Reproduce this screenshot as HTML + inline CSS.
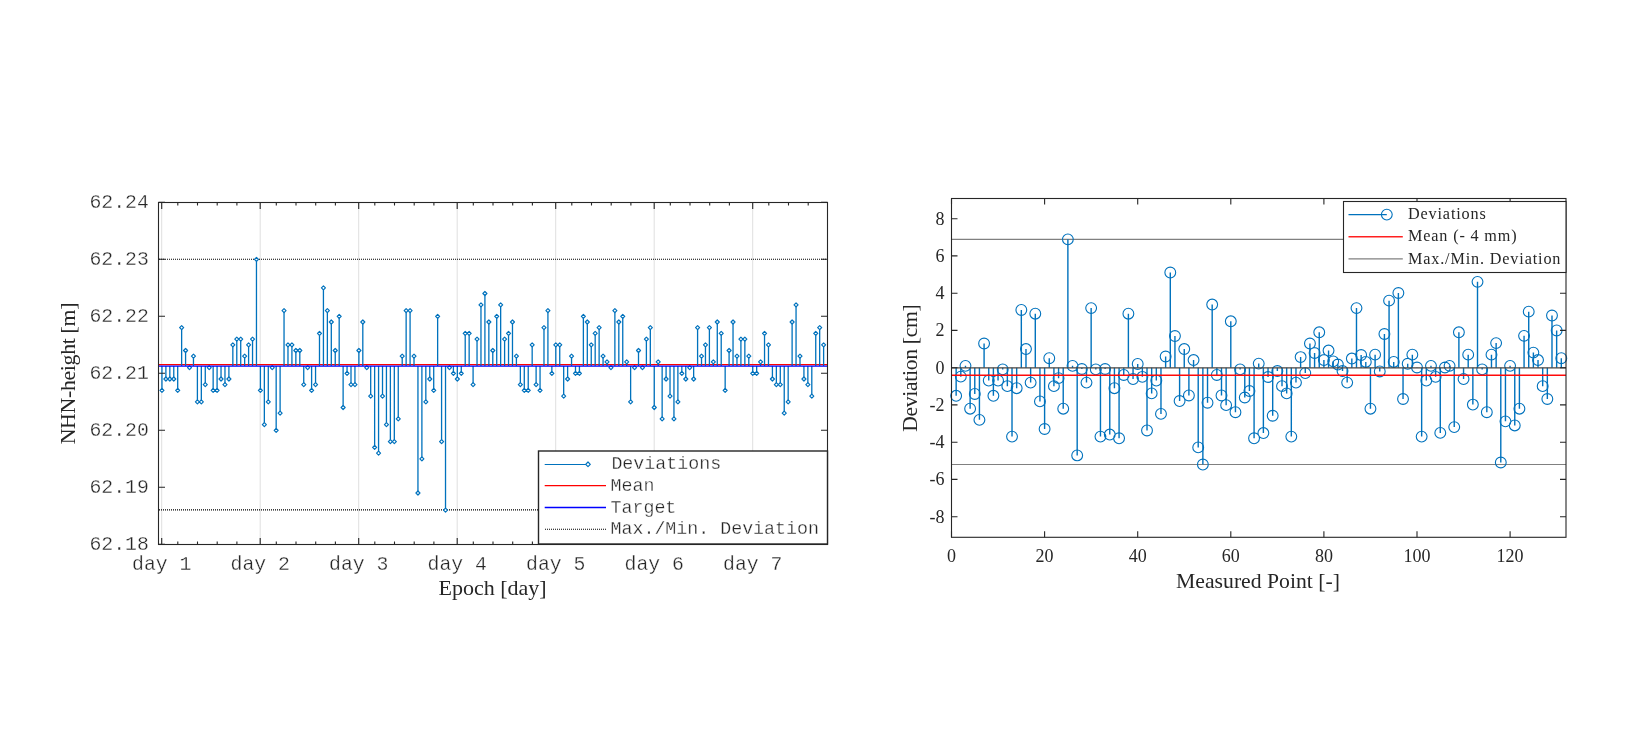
<!DOCTYPE html>
<html><head><meta charset="utf-8"><style>
html,body{margin:0;padding:0;background:#fff;width:1640px;height:750px;overflow:hidden}
svg{display:block;will-change:transform}
.mono{font-family:"Liberation Mono",monospace;fill:#262626;stroke:#fff;stroke-width:0.3px}
.serif{font-family:"Liberation Serif",serif;fill:#262626}
</style></head><body>
<svg width="1640" height="750" viewBox="0 0 1640 750">
<g>
<line x1="161.7" y1="202.5" x2="161.7" y2="544.5" stroke="#dfdfdf" stroke-width="1"/>
<line x1="260.2" y1="202.5" x2="260.2" y2="544.5" stroke="#dfdfdf" stroke-width="1"/>
<line x1="358.7" y1="202.5" x2="358.7" y2="544.5" stroke="#dfdfdf" stroke-width="1"/>
<line x1="457.2" y1="202.5" x2="457.2" y2="544.5" stroke="#dfdfdf" stroke-width="1"/>
<line x1="555.7" y1="202.5" x2="555.7" y2="544.5" stroke="#dfdfdf" stroke-width="1"/>
<line x1="654.2" y1="202.5" x2="654.2" y2="544.5" stroke="#dfdfdf" stroke-width="1"/>
<line x1="752.7" y1="202.5" x2="752.7" y2="544.5" stroke="#dfdfdf" stroke-width="1"/>
<line x1="159" y1="259.3" x2="827" y2="259.3" stroke="#000" stroke-width="1.1" stroke-dasharray="1 1"/>
<line x1="159" y1="509.9" x2="827" y2="509.9" stroke="#000" stroke-width="1.1" stroke-dasharray="1 1"/>
<line x1="158.5" y1="364.7" x2="827.5" y2="364.7" stroke="#ff0000" stroke-width="1.3"/>
<path d="M161.95 366.0V390.40M165.89 366.0V379.00M169.83 366.0V379.00M173.77 366.0V379.00M177.70 366.0V390.40M181.64 366.0V327.70M185.58 366.0V350.50M189.52 366.0V367.60M193.46 366.0V356.20M197.40 366.0V401.80M201.33 366.0V401.80M205.27 366.0V384.70M209.21 366.0V367.60M213.15 366.0V390.40M217.09 366.0V390.40M221.03 366.0V379.00M224.97 366.0V384.70M228.90 366.0V379.00M232.84 366.0V344.80M236.78 366.0V339.10M240.72 366.0V339.10M244.66 366.0V356.20M248.60 366.0V344.80M252.54 366.0V339.10M256.47 366.0V259.30M260.41 366.0V390.40M264.35 366.0V424.60M268.29 366.0V401.80M272.23 366.0V367.60M276.17 366.0V430.30M280.11 366.0V413.20M284.04 366.0V310.60M287.98 366.0V344.80M291.92 366.0V344.80M295.86 366.0V350.50M299.80 366.0V350.50M303.74 366.0V384.70M307.67 366.0V367.60M311.61 366.0V390.40M315.55 366.0V384.70M319.49 366.0V333.40M323.43 366.0V287.80M327.37 366.0V310.60M331.31 366.0V322.00M335.24 366.0V350.50M339.18 366.0V316.30M343.12 366.0V407.50M347.06 366.0V373.30M351.00 366.0V384.70M354.94 366.0V384.70M358.88 366.0V350.50M362.81 366.0V322.00M366.75 366.0V367.60M370.69 366.0V396.10M374.63 366.0V447.40M378.57 366.0V453.10M382.51 366.0V396.10M386.44 366.0V424.60M390.38 366.0V441.70M394.32 366.0V441.70M398.26 366.0V418.90M402.20 366.0V356.20M406.14 366.0V310.60M410.08 366.0V310.60M414.01 366.0V356.20M417.95 366.0V493.00M421.89 366.0V458.80M425.83 366.0V401.80M429.77 366.0V379.00M433.71 366.0V390.40M437.64 366.0V316.30M441.58 366.0V441.70M445.52 366.0V510.10M449.46 366.0V367.60M453.40 366.0V373.30M457.34 366.0V379.00M461.28 366.0V373.30M465.21 366.0V333.40M469.15 366.0V333.40M473.09 366.0V384.70M477.03 366.0V339.10M480.97 366.0V304.90M484.91 366.0V293.50M488.85 366.0V322.00M492.78 366.0V350.50M496.72 366.0V316.30M500.66 366.0V304.90M504.60 366.0V339.10M508.54 366.0V333.40M512.48 366.0V322.00M516.41 366.0V356.20M520.35 366.0V384.70M524.29 366.0V390.40M528.23 366.0V390.40M532.17 366.0V344.80M536.11 366.0V384.70M540.05 366.0V390.40M543.98 366.0V327.70M547.92 366.0V310.60M551.86 366.0V373.30M555.80 366.0V344.80M559.74 366.0V344.80M563.68 366.0V396.10M567.62 366.0V379.00M571.55 366.0V356.20M575.49 366.0V373.30M579.43 366.0V373.30M583.37 366.0V316.30M587.31 366.0V322.00M591.25 366.0V344.80M595.18 366.0V333.40M599.12 366.0V327.70M603.06 366.0V356.20M607.00 366.0V361.90M610.94 366.0V367.60M614.88 366.0V310.60M618.82 366.0V322.00M622.75 366.0V316.30M626.69 366.0V361.90M630.63 366.0V401.80M634.57 366.0V367.60M638.51 366.0V350.50M642.45 366.0V367.60M646.39 366.0V339.10M650.32 366.0V327.70M654.26 366.0V407.50M658.20 366.0V361.90M662.14 366.0V418.90M666.08 366.0V379.00M670.02 366.0V396.10M673.95 366.0V418.90M677.89 366.0V401.80M681.83 366.0V373.30M685.77 366.0V379.00M689.71 366.0V367.60M693.65 366.0V379.00M697.59 366.0V327.70M701.52 366.0V356.20M705.46 366.0V344.80M709.40 366.0V327.70M713.34 366.0V361.90M717.28 366.0V322.00M721.22 366.0V333.40M725.16 366.0V390.40M729.09 366.0V350.50M733.03 366.0V322.00M736.97 366.0V356.20M740.91 366.0V339.10M744.85 366.0V339.10M748.79 366.0V356.20M752.72 366.0V373.30M756.66 366.0V373.30M760.60 366.0V361.90M764.54 366.0V333.40M768.48 366.0V344.80M772.42 366.0V379.00M776.36 366.0V384.70M780.29 366.0V384.70M784.23 366.0V413.20M788.17 366.0V401.80M792.11 366.0V322.00M796.05 366.0V304.90M799.99 366.0V356.20M803.93 366.0V379.00M807.86 366.0V384.70M811.80 366.0V396.10M815.74 366.0V333.40M819.68 366.0V327.70M823.62 366.0V344.80" stroke="#0072bd" stroke-width="1.3" fill="none"/>
<path d="M159.95 390.40L161.95 388.40L163.95 390.40L161.95 392.40ZM163.89 379.00L165.89 377.00L167.89 379.00L165.89 381.00ZM167.83 379.00L169.83 377.00L171.83 379.00L169.83 381.00ZM171.77 379.00L173.77 377.00L175.77 379.00L173.77 381.00ZM175.70 390.40L177.70 388.40L179.70 390.40L177.70 392.40ZM179.64 327.70L181.64 325.70L183.64 327.70L181.64 329.70ZM183.58 350.50L185.58 348.50L187.58 350.50L185.58 352.50ZM187.52 367.60L189.52 365.60L191.52 367.60L189.52 369.60ZM191.46 356.20L193.46 354.20L195.46 356.20L193.46 358.20ZM195.40 401.80L197.40 399.80L199.40 401.80L197.40 403.80ZM199.33 401.80L201.33 399.80L203.33 401.80L201.33 403.80ZM203.27 384.70L205.27 382.70L207.27 384.70L205.27 386.70ZM207.21 367.60L209.21 365.60L211.21 367.60L209.21 369.60ZM211.15 390.40L213.15 388.40L215.15 390.40L213.15 392.40ZM215.09 390.40L217.09 388.40L219.09 390.40L217.09 392.40ZM219.03 379.00L221.03 377.00L223.03 379.00L221.03 381.00ZM222.97 384.70L224.97 382.70L226.97 384.70L224.97 386.70ZM226.90 379.00L228.90 377.00L230.90 379.00L228.90 381.00ZM230.84 344.80L232.84 342.80L234.84 344.80L232.84 346.80ZM234.78 339.10L236.78 337.10L238.78 339.10L236.78 341.10ZM238.72 339.10L240.72 337.10L242.72 339.10L240.72 341.10ZM242.66 356.20L244.66 354.20L246.66 356.20L244.66 358.20ZM246.60 344.80L248.60 342.80L250.60 344.80L248.60 346.80ZM250.54 339.10L252.54 337.10L254.54 339.10L252.54 341.10ZM254.47 259.30L256.47 257.30L258.47 259.30L256.47 261.30ZM258.41 390.40L260.41 388.40L262.41 390.40L260.41 392.40ZM262.35 424.60L264.35 422.60L266.35 424.60L264.35 426.60ZM266.29 401.80L268.29 399.80L270.29 401.80L268.29 403.80ZM270.23 367.60L272.23 365.60L274.23 367.60L272.23 369.60ZM274.17 430.30L276.17 428.30L278.17 430.30L276.17 432.30ZM278.11 413.20L280.11 411.20L282.11 413.20L280.11 415.20ZM282.04 310.60L284.04 308.60L286.04 310.60L284.04 312.60ZM285.98 344.80L287.98 342.80L289.98 344.80L287.98 346.80ZM289.92 344.80L291.92 342.80L293.92 344.80L291.92 346.80ZM293.86 350.50L295.86 348.50L297.86 350.50L295.86 352.50ZM297.80 350.50L299.80 348.50L301.80 350.50L299.80 352.50ZM301.74 384.70L303.74 382.70L305.74 384.70L303.74 386.70ZM305.67 367.60L307.67 365.60L309.67 367.60L307.67 369.60ZM309.61 390.40L311.61 388.40L313.61 390.40L311.61 392.40ZM313.55 384.70L315.55 382.70L317.55 384.70L315.55 386.70ZM317.49 333.40L319.49 331.40L321.49 333.40L319.49 335.40ZM321.43 287.80L323.43 285.80L325.43 287.80L323.43 289.80ZM325.37 310.60L327.37 308.60L329.37 310.60L327.37 312.60ZM329.31 322.00L331.31 320.00L333.31 322.00L331.31 324.00ZM333.24 350.50L335.24 348.50L337.24 350.50L335.24 352.50ZM337.18 316.30L339.18 314.30L341.18 316.30L339.18 318.30ZM341.12 407.50L343.12 405.50L345.12 407.50L343.12 409.50ZM345.06 373.30L347.06 371.30L349.06 373.30L347.06 375.30ZM349.00 384.70L351.00 382.70L353.00 384.70L351.00 386.70ZM352.94 384.70L354.94 382.70L356.94 384.70L354.94 386.70ZM356.88 350.50L358.88 348.50L360.88 350.50L358.88 352.50ZM360.81 322.00L362.81 320.00L364.81 322.00L362.81 324.00ZM364.75 367.60L366.75 365.60L368.75 367.60L366.75 369.60ZM368.69 396.10L370.69 394.10L372.69 396.10L370.69 398.10ZM372.63 447.40L374.63 445.40L376.63 447.40L374.63 449.40ZM376.57 453.10L378.57 451.10L380.57 453.10L378.57 455.10ZM380.51 396.10L382.51 394.10L384.51 396.10L382.51 398.10ZM384.44 424.60L386.44 422.60L388.44 424.60L386.44 426.60ZM388.38 441.70L390.38 439.70L392.38 441.70L390.38 443.70ZM392.32 441.70L394.32 439.70L396.32 441.70L394.32 443.70ZM396.26 418.90L398.26 416.90L400.26 418.90L398.26 420.90ZM400.20 356.20L402.20 354.20L404.20 356.20L402.20 358.20ZM404.14 310.60L406.14 308.60L408.14 310.60L406.14 312.60ZM408.08 310.60L410.08 308.60L412.08 310.60L410.08 312.60ZM412.01 356.20L414.01 354.20L416.01 356.20L414.01 358.20ZM415.95 493.00L417.95 491.00L419.95 493.00L417.95 495.00ZM419.89 458.80L421.89 456.80L423.89 458.80L421.89 460.80ZM423.83 401.80L425.83 399.80L427.83 401.80L425.83 403.80ZM427.77 379.00L429.77 377.00L431.77 379.00L429.77 381.00ZM431.71 390.40L433.71 388.40L435.71 390.40L433.71 392.40ZM435.64 316.30L437.64 314.30L439.64 316.30L437.64 318.30ZM439.58 441.70L441.58 439.70L443.58 441.70L441.58 443.70ZM443.52 510.10L445.52 508.10L447.52 510.10L445.52 512.10ZM447.46 367.60L449.46 365.60L451.46 367.60L449.46 369.60ZM451.40 373.30L453.40 371.30L455.40 373.30L453.40 375.30ZM455.34 379.00L457.34 377.00L459.34 379.00L457.34 381.00ZM459.28 373.30L461.28 371.30L463.28 373.30L461.28 375.30ZM463.21 333.40L465.21 331.40L467.21 333.40L465.21 335.40ZM467.15 333.40L469.15 331.40L471.15 333.40L469.15 335.40ZM471.09 384.70L473.09 382.70L475.09 384.70L473.09 386.70ZM475.03 339.10L477.03 337.10L479.03 339.10L477.03 341.10ZM478.97 304.90L480.97 302.90L482.97 304.90L480.97 306.90ZM482.91 293.50L484.91 291.50L486.91 293.50L484.91 295.50ZM486.85 322.00L488.85 320.00L490.85 322.00L488.85 324.00ZM490.78 350.50L492.78 348.50L494.78 350.50L492.78 352.50ZM494.72 316.30L496.72 314.30L498.72 316.30L496.72 318.30ZM498.66 304.90L500.66 302.90L502.66 304.90L500.66 306.90ZM502.60 339.10L504.60 337.10L506.60 339.10L504.60 341.10ZM506.54 333.40L508.54 331.40L510.54 333.40L508.54 335.40ZM510.48 322.00L512.48 320.00L514.48 322.00L512.48 324.00ZM514.41 356.20L516.41 354.20L518.41 356.20L516.41 358.20ZM518.35 384.70L520.35 382.70L522.35 384.70L520.35 386.70ZM522.29 390.40L524.29 388.40L526.29 390.40L524.29 392.40ZM526.23 390.40L528.23 388.40L530.23 390.40L528.23 392.40ZM530.17 344.80L532.17 342.80L534.17 344.80L532.17 346.80ZM534.11 384.70L536.11 382.70L538.11 384.70L536.11 386.70ZM538.05 390.40L540.05 388.40L542.05 390.40L540.05 392.40ZM541.98 327.70L543.98 325.70L545.98 327.70L543.98 329.70ZM545.92 310.60L547.92 308.60L549.92 310.60L547.92 312.60ZM549.86 373.30L551.86 371.30L553.86 373.30L551.86 375.30ZM553.80 344.80L555.80 342.80L557.80 344.80L555.80 346.80ZM557.74 344.80L559.74 342.80L561.74 344.80L559.74 346.80ZM561.68 396.10L563.68 394.10L565.68 396.10L563.68 398.10ZM565.62 379.00L567.62 377.00L569.62 379.00L567.62 381.00ZM569.55 356.20L571.55 354.20L573.55 356.20L571.55 358.20ZM573.49 373.30L575.49 371.30L577.49 373.30L575.49 375.30ZM577.43 373.30L579.43 371.30L581.43 373.30L579.43 375.30ZM581.37 316.30L583.37 314.30L585.37 316.30L583.37 318.30ZM585.31 322.00L587.31 320.00L589.31 322.00L587.31 324.00ZM589.25 344.80L591.25 342.80L593.25 344.80L591.25 346.80ZM593.18 333.40L595.18 331.40L597.18 333.40L595.18 335.40ZM597.12 327.70L599.12 325.70L601.12 327.70L599.12 329.70ZM601.06 356.20L603.06 354.20L605.06 356.20L603.06 358.20ZM605.00 361.90L607.00 359.90L609.00 361.90L607.00 363.90ZM608.94 367.60L610.94 365.60L612.94 367.60L610.94 369.60ZM612.88 310.60L614.88 308.60L616.88 310.60L614.88 312.60ZM616.82 322.00L618.82 320.00L620.82 322.00L618.82 324.00ZM620.75 316.30L622.75 314.30L624.75 316.30L622.75 318.30ZM624.69 361.90L626.69 359.90L628.69 361.90L626.69 363.90ZM628.63 401.80L630.63 399.80L632.63 401.80L630.63 403.80ZM632.57 367.60L634.57 365.60L636.57 367.60L634.57 369.60ZM636.51 350.50L638.51 348.50L640.51 350.50L638.51 352.50ZM640.45 367.60L642.45 365.60L644.45 367.60L642.45 369.60ZM644.39 339.10L646.39 337.10L648.39 339.10L646.39 341.10ZM648.32 327.70L650.32 325.70L652.32 327.70L650.32 329.70ZM652.26 407.50L654.26 405.50L656.26 407.50L654.26 409.50ZM656.20 361.90L658.20 359.90L660.20 361.90L658.20 363.90ZM660.14 418.90L662.14 416.90L664.14 418.90L662.14 420.90ZM664.08 379.00L666.08 377.00L668.08 379.00L666.08 381.00ZM668.02 396.10L670.02 394.10L672.02 396.10L670.02 398.10ZM671.95 418.90L673.95 416.90L675.95 418.90L673.95 420.90ZM675.89 401.80L677.89 399.80L679.89 401.80L677.89 403.80ZM679.83 373.30L681.83 371.30L683.83 373.30L681.83 375.30ZM683.77 379.00L685.77 377.00L687.77 379.00L685.77 381.00ZM687.71 367.60L689.71 365.60L691.71 367.60L689.71 369.60ZM691.65 379.00L693.65 377.00L695.65 379.00L693.65 381.00ZM695.59 327.70L697.59 325.70L699.59 327.70L697.59 329.70ZM699.52 356.20L701.52 354.20L703.52 356.20L701.52 358.20ZM703.46 344.80L705.46 342.80L707.46 344.80L705.46 346.80ZM707.40 327.70L709.40 325.70L711.40 327.70L709.40 329.70ZM711.34 361.90L713.34 359.90L715.34 361.90L713.34 363.90ZM715.28 322.00L717.28 320.00L719.28 322.00L717.28 324.00ZM719.22 333.40L721.22 331.40L723.22 333.40L721.22 335.40ZM723.16 390.40L725.16 388.40L727.16 390.40L725.16 392.40ZM727.09 350.50L729.09 348.50L731.09 350.50L729.09 352.50ZM731.03 322.00L733.03 320.00L735.03 322.00L733.03 324.00ZM734.97 356.20L736.97 354.20L738.97 356.20L736.97 358.20ZM738.91 339.10L740.91 337.10L742.91 339.10L740.91 341.10ZM742.85 339.10L744.85 337.10L746.85 339.10L744.85 341.10ZM746.79 356.20L748.79 354.20L750.79 356.20L748.79 358.20ZM750.72 373.30L752.72 371.30L754.72 373.30L752.72 375.30ZM754.66 373.30L756.66 371.30L758.66 373.30L756.66 375.30ZM758.60 361.90L760.60 359.90L762.60 361.90L760.60 363.90ZM762.54 333.40L764.54 331.40L766.54 333.40L764.54 335.40ZM766.48 344.80L768.48 342.80L770.48 344.80L768.48 346.80ZM770.42 379.00L772.42 377.00L774.42 379.00L772.42 381.00ZM774.36 384.70L776.36 382.70L778.36 384.70L776.36 386.70ZM778.29 384.70L780.29 382.70L782.29 384.70L780.29 386.70ZM782.23 413.20L784.23 411.20L786.23 413.20L784.23 415.20ZM786.17 401.80L788.17 399.80L790.17 401.80L788.17 403.80ZM790.11 322.00L792.11 320.00L794.11 322.00L792.11 324.00ZM794.05 304.90L796.05 302.90L798.05 304.90L796.05 306.90ZM797.99 356.20L799.99 354.20L801.99 356.20L799.99 358.20ZM801.93 379.00L803.93 377.00L805.93 379.00L803.93 381.00ZM805.86 384.70L807.86 382.70L809.86 384.70L807.86 386.70ZM809.80 396.10L811.80 394.10L813.80 396.10L811.80 398.10ZM813.74 333.40L815.74 331.40L817.74 333.40L815.74 335.40ZM817.68 327.70L819.68 325.70L821.68 327.70L819.68 329.70ZM821.62 344.80L823.62 342.80L825.62 344.80L823.62 346.80Z" fill="#fff" stroke="#0072bd" stroke-width="1.2" stroke-linejoin="round"/>
<line x1="158.5" y1="366.1" x2="827.5" y2="366.1" stroke="#0000ff" stroke-width="1.3"/>
<path d="M161.7 544.5v-6.5M161.7 202.5v6.5M177.8 544.5v-3M177.8 202.5v3M197.5 544.5v-3M197.5 202.5v3M217.2 544.5v-3M217.2 202.5v3M236.9 544.5v-3M236.9 202.5v3M260.2 544.5v-6.5M260.2 202.5v6.5M276.3 544.5v-3M276.3 202.5v3M296.0 544.5v-3M296.0 202.5v3M315.7 544.5v-3M315.7 202.5v3M335.4 544.5v-3M335.4 202.5v3M358.7 544.5v-6.5M358.7 202.5v6.5M374.8 544.5v-3M374.8 202.5v3M394.5 544.5v-3M394.5 202.5v3M414.2 544.5v-3M414.2 202.5v3M433.9 544.5v-3M433.9 202.5v3M457.2 544.5v-6.5M457.2 202.5v6.5M473.3 544.5v-3M473.3 202.5v3M493.0 544.5v-3M493.0 202.5v3M512.7 544.5v-3M512.7 202.5v3M532.4 544.5v-3M532.4 202.5v3M555.7 544.5v-6.5M555.7 202.5v6.5M571.8 544.5v-3M571.8 202.5v3M591.5 544.5v-3M591.5 202.5v3M611.2 544.5v-3M611.2 202.5v3M630.9 544.5v-3M630.9 202.5v3M654.2 544.5v-6.5M654.2 202.5v6.5M670.3 544.5v-3M670.3 202.5v3M690.0 544.5v-3M690.0 202.5v3M709.7 544.5v-3M709.7 202.5v3M729.4 544.5v-3M729.4 202.5v3M752.7 544.5v-6.5M752.7 202.5v6.5M768.8 544.5v-3M768.8 202.5v3M788.5 544.5v-3M788.5 202.5v3M808.2 544.5v-3M808.2 202.5v3M158.5 544.3h6.5M827.5 544.3h-6.5M158.5 487.3h6.5M827.5 487.3h-6.5M158.5 430.3h6.5M827.5 430.3h-6.5M158.5 373.3h6.5M827.5 373.3h-6.5M158.5 316.3h6.5M827.5 316.3h-6.5M158.5 259.3h6.5M827.5 259.3h-6.5M158.5 202.3h6.5M827.5 202.3h-6.5" stroke="#262626" stroke-width="1.1" fill="none"/>
<rect x="158.5" y="202.5" width="669.0" height="342.0" fill="none" stroke="#262626" stroke-width="1.1"/>
<text x="148.8" y="550.3" class="mono" font-size="19.8" text-anchor="end">62.18</text>
<text x="148.8" y="493.3" class="mono" font-size="19.8" text-anchor="end">62.19</text>
<text x="148.8" y="436.3" class="mono" font-size="19.8" text-anchor="end">62.20</text>
<text x="148.8" y="379.3" class="mono" font-size="19.8" text-anchor="end">62.21</text>
<text x="148.8" y="322.3" class="mono" font-size="19.8" text-anchor="end">62.22</text>
<text x="148.8" y="265.3" class="mono" font-size="19.8" text-anchor="end">62.23</text>
<text x="148.8" y="208.3" class="mono" font-size="19.8" text-anchor="end">62.24</text>
<text x="161.7" y="569.5" class="mono" font-size="19.8" text-anchor="middle">day 1</text>
<text x="260.2" y="569.5" class="mono" font-size="19.8" text-anchor="middle">day 2</text>
<text x="358.7" y="569.5" class="mono" font-size="19.8" text-anchor="middle">day 3</text>
<text x="457.2" y="569.5" class="mono" font-size="19.8" text-anchor="middle">day 4</text>
<text x="555.7" y="569.5" class="mono" font-size="19.8" text-anchor="middle">day 5</text>
<text x="654.2" y="569.5" class="mono" font-size="19.8" text-anchor="middle">day 6</text>
<text x="752.7" y="569.5" class="mono" font-size="19.8" text-anchor="middle">day 7</text>
<text x="492.5" y="595" class="serif" font-size="22" text-anchor="middle">Epoch [day]</text>
<text transform="translate(74.5 373.6) rotate(-90)" class="serif" font-size="21.8" letter-spacing="-0.32" text-anchor="middle">NHN-height [m]</text>
<rect x="538.5" y="451" width="289" height="93" fill="#fff" stroke="#262626" stroke-width="1.4"/>
<line x1="544.7" y1="464.5" x2="588" y2="464.5" stroke="#0072bd" stroke-width="1.1"/>
<path d="M585.7 464.3L588 462L590.3 464.3L588 466.6Z" fill="#fff" stroke="#0072bd" stroke-width="1.2" stroke-linejoin="round"/>
<line x1="544.7" y1="485.7" x2="606" y2="485.7" stroke="#ff0000" stroke-width="1.3"/>
<line x1="544.7" y1="507.5" x2="606" y2="507.5" stroke="#0000ff" stroke-width="1.3"/>
<line x1="545" y1="529.2" x2="606" y2="529.2" stroke="#000" stroke-width="1.1" stroke-dasharray="1 1"/>
<text x="611.4" y="469.2" class="mono" font-size="18.3">Deviations</text>
<text x="610.5" y="490.9" class="mono" font-size="18.3">Mean</text>
<text x="610.5" y="512.7" class="mono" font-size="18.3">Target</text>
<text x="610.5" y="534.4" class="mono" font-size="18.3">Max./Min. Deviation</text>
</g>
<g>
<line x1="951.5" y1="239.37" x2="1566" y2="239.37" stroke="#808080" stroke-width="1.1"/>
<line x1="951.5" y1="464.55" x2="1566" y2="464.55" stroke="#808080" stroke-width="1.1"/>
<path d="M956.15 367.70V395.82M960.81 367.70V376.64M965.47 367.70V365.84M970.12 367.70V408.68M974.77 367.70V393.96M979.43 367.70V419.85M984.09 367.70V343.49M988.74 367.70V380.55M993.39 367.70V395.82M998.05 367.70V380.55M1002.71 367.70V369.38M1007.36 367.70V386.14M1012.01 367.70V436.61M1016.67 367.70V388.19M1021.33 367.70V309.96M1025.98 367.70V349.07M1030.63 367.70V382.60M1035.29 367.70V313.69M1039.94 367.70V401.41M1044.60 367.70V428.98M1049.26 367.70V358.20M1053.91 367.70V386.14M1058.57 367.70V378.13M1063.22 367.70V408.68M1067.88 367.70V239.37M1072.53 367.70V365.84M1077.18 367.70V455.42M1081.84 367.70V369.00M1086.49 367.70V382.60M1091.15 367.70V308.10M1095.81 367.70V369.38M1100.46 367.70V436.61M1105.12 367.70V369.00M1109.77 367.70V434.56M1114.42 367.70V388.19M1119.08 367.70V438.29M1123.74 367.70V374.96M1128.39 367.70V313.69M1133.05 367.70V379.06M1137.70 367.70V363.97M1142.36 367.70V376.83M1147.01 367.70V430.47M1151.66 367.70V393.40M1156.32 367.70V380.55M1160.97 367.70V413.89M1165.63 367.70V356.52M1170.29 367.70V272.53M1174.94 367.70V336.04M1179.60 367.70V401.04M1184.25 367.70V349.07M1188.90 367.70V395.45M1193.56 367.70V360.06M1198.21 367.70V447.41M1202.87 367.70V464.55M1207.53 367.70V402.71M1212.18 367.70V304.56M1216.84 367.70V374.96M1221.49 367.70V395.45M1226.14 367.70V405.14M1230.80 367.70V321.32M1235.45 367.70V412.21M1240.11 367.70V369.38M1244.77 367.70V397.50M1249.42 367.70V390.98M1254.08 367.70V438.29M1258.73 367.70V363.60M1263.38 367.70V433.07M1268.04 367.70V377.01M1272.69 367.70V415.75M1277.35 367.70V371.05M1282.01 367.70V386.14M1286.66 367.70V393.40M1291.32 367.70V436.61M1295.97 367.70V382.60M1300.62 367.70V357.08M1305.28 367.70V373.10M1309.93 367.70V343.49M1314.59 367.70V352.99M1319.24 367.70V332.31M1323.90 367.70V360.06M1328.56 367.70V350.56M1333.21 367.70V361.37M1337.87 367.70V364.53M1342.52 367.70V371.05M1347.17 367.70V382.60M1351.83 367.70V358.57M1356.49 367.70V308.10M1361.14 367.70V355.03M1365.80 367.70V361.93M1370.45 367.70V408.68M1375.11 367.70V354.66M1379.76 367.70V371.43M1384.41 367.70V333.99M1389.07 367.70V300.65M1393.72 367.70V361.93M1398.38 367.70V293.01M1403.04 367.70V398.99M1407.69 367.70V363.79M1412.35 367.70V354.66M1417.00 367.70V367.51M1421.65 367.70V436.61M1426.31 367.70V380.55M1430.97 367.70V365.84M1435.62 367.70V376.83M1440.28 367.70V432.89M1444.93 367.70V367.51M1449.59 367.70V365.84M1454.24 367.70V427.11M1458.89 367.70V332.31M1463.55 367.70V379.06M1468.20 367.70V354.66M1472.86 367.70V404.58M1477.51 367.70V281.84M1482.17 367.70V369.38M1486.83 367.70V412.21M1491.48 367.70V354.66M1496.13 367.70V343.12M1500.79 367.70V462.50M1505.45 367.70V421.34M1510.10 367.70V365.84M1514.76 367.70V425.44M1519.41 367.70V408.68M1524.07 367.70V335.85M1528.72 367.70V311.64M1533.38 367.70V352.61M1538.03 367.70V360.06M1542.68 367.70V386.14M1547.34 367.70V398.99M1551.99 367.70V315.55M1556.65 367.70V330.45M1561.31 367.70V358.20" stroke="#0072bd" stroke-width="1.4" fill="none"/>
<path d="M950.75 395.82a5.4 5.4 0 1 0 10.8 0a5.4 5.4 0 1 0 -10.8 0M955.41 376.64a5.4 5.4 0 1 0 10.8 0a5.4 5.4 0 1 0 -10.8 0M960.07 365.84a5.4 5.4 0 1 0 10.8 0a5.4 5.4 0 1 0 -10.8 0M964.72 408.68a5.4 5.4 0 1 0 10.8 0a5.4 5.4 0 1 0 -10.8 0M969.38 393.96a5.4 5.4 0 1 0 10.8 0a5.4 5.4 0 1 0 -10.8 0M974.03 419.85a5.4 5.4 0 1 0 10.8 0a5.4 5.4 0 1 0 -10.8 0M978.69 343.49a5.4 5.4 0 1 0 10.8 0a5.4 5.4 0 1 0 -10.8 0M983.34 380.55a5.4 5.4 0 1 0 10.8 0a5.4 5.4 0 1 0 -10.8 0M988.00 395.82a5.4 5.4 0 1 0 10.8 0a5.4 5.4 0 1 0 -10.8 0M992.65 380.55a5.4 5.4 0 1 0 10.8 0a5.4 5.4 0 1 0 -10.8 0M997.31 369.38a5.4 5.4 0 1 0 10.8 0a5.4 5.4 0 1 0 -10.8 0M1001.96 386.14a5.4 5.4 0 1 0 10.8 0a5.4 5.4 0 1 0 -10.8 0M1006.62 436.61a5.4 5.4 0 1 0 10.8 0a5.4 5.4 0 1 0 -10.8 0M1011.27 388.19a5.4 5.4 0 1 0 10.8 0a5.4 5.4 0 1 0 -10.8 0M1015.93 309.96a5.4 5.4 0 1 0 10.8 0a5.4 5.4 0 1 0 -10.8 0M1020.58 349.07a5.4 5.4 0 1 0 10.8 0a5.4 5.4 0 1 0 -10.8 0M1025.23 382.60a5.4 5.4 0 1 0 10.8 0a5.4 5.4 0 1 0 -10.8 0M1029.89 313.69a5.4 5.4 0 1 0 10.8 0a5.4 5.4 0 1 0 -10.8 0M1034.54 401.41a5.4 5.4 0 1 0 10.8 0a5.4 5.4 0 1 0 -10.8 0M1039.20 428.98a5.4 5.4 0 1 0 10.8 0a5.4 5.4 0 1 0 -10.8 0M1043.86 358.20a5.4 5.4 0 1 0 10.8 0a5.4 5.4 0 1 0 -10.8 0M1048.51 386.14a5.4 5.4 0 1 0 10.8 0a5.4 5.4 0 1 0 -10.8 0M1053.16 378.13a5.4 5.4 0 1 0 10.8 0a5.4 5.4 0 1 0 -10.8 0M1057.82 408.68a5.4 5.4 0 1 0 10.8 0a5.4 5.4 0 1 0 -10.8 0M1062.47 239.37a5.4 5.4 0 1 0 10.8 0a5.4 5.4 0 1 0 -10.8 0M1067.13 365.84a5.4 5.4 0 1 0 10.8 0a5.4 5.4 0 1 0 -10.8 0M1071.78 455.42a5.4 5.4 0 1 0 10.8 0a5.4 5.4 0 1 0 -10.8 0M1076.44 369.00a5.4 5.4 0 1 0 10.8 0a5.4 5.4 0 1 0 -10.8 0M1081.09 382.60a5.4 5.4 0 1 0 10.8 0a5.4 5.4 0 1 0 -10.8 0M1085.75 308.10a5.4 5.4 0 1 0 10.8 0a5.4 5.4 0 1 0 -10.8 0M1090.40 369.38a5.4 5.4 0 1 0 10.8 0a5.4 5.4 0 1 0 -10.8 0M1095.06 436.61a5.4 5.4 0 1 0 10.8 0a5.4 5.4 0 1 0 -10.8 0M1099.71 369.00a5.4 5.4 0 1 0 10.8 0a5.4 5.4 0 1 0 -10.8 0M1104.37 434.56a5.4 5.4 0 1 0 10.8 0a5.4 5.4 0 1 0 -10.8 0M1109.02 388.19a5.4 5.4 0 1 0 10.8 0a5.4 5.4 0 1 0 -10.8 0M1113.68 438.29a5.4 5.4 0 1 0 10.8 0a5.4 5.4 0 1 0 -10.8 0M1118.34 374.96a5.4 5.4 0 1 0 10.8 0a5.4 5.4 0 1 0 -10.8 0M1122.99 313.69a5.4 5.4 0 1 0 10.8 0a5.4 5.4 0 1 0 -10.8 0M1127.64 379.06a5.4 5.4 0 1 0 10.8 0a5.4 5.4 0 1 0 -10.8 0M1132.30 363.97a5.4 5.4 0 1 0 10.8 0a5.4 5.4 0 1 0 -10.8 0M1136.95 376.83a5.4 5.4 0 1 0 10.8 0a5.4 5.4 0 1 0 -10.8 0M1141.61 430.47a5.4 5.4 0 1 0 10.8 0a5.4 5.4 0 1 0 -10.8 0M1146.26 393.40a5.4 5.4 0 1 0 10.8 0a5.4 5.4 0 1 0 -10.8 0M1150.92 380.55a5.4 5.4 0 1 0 10.8 0a5.4 5.4 0 1 0 -10.8 0M1155.57 413.89a5.4 5.4 0 1 0 10.8 0a5.4 5.4 0 1 0 -10.8 0M1160.23 356.52a5.4 5.4 0 1 0 10.8 0a5.4 5.4 0 1 0 -10.8 0M1164.88 272.53a5.4 5.4 0 1 0 10.8 0a5.4 5.4 0 1 0 -10.8 0M1169.54 336.04a5.4 5.4 0 1 0 10.8 0a5.4 5.4 0 1 0 -10.8 0M1174.19 401.04a5.4 5.4 0 1 0 10.8 0a5.4 5.4 0 1 0 -10.8 0M1178.85 349.07a5.4 5.4 0 1 0 10.8 0a5.4 5.4 0 1 0 -10.8 0M1183.50 395.45a5.4 5.4 0 1 0 10.8 0a5.4 5.4 0 1 0 -10.8 0M1188.16 360.06a5.4 5.4 0 1 0 10.8 0a5.4 5.4 0 1 0 -10.8 0M1192.81 447.41a5.4 5.4 0 1 0 10.8 0a5.4 5.4 0 1 0 -10.8 0M1197.47 464.55a5.4 5.4 0 1 0 10.8 0a5.4 5.4 0 1 0 -10.8 0M1202.12 402.71a5.4 5.4 0 1 0 10.8 0a5.4 5.4 0 1 0 -10.8 0M1206.78 304.56a5.4 5.4 0 1 0 10.8 0a5.4 5.4 0 1 0 -10.8 0M1211.43 374.96a5.4 5.4 0 1 0 10.8 0a5.4 5.4 0 1 0 -10.8 0M1216.09 395.45a5.4 5.4 0 1 0 10.8 0a5.4 5.4 0 1 0 -10.8 0M1220.74 405.14a5.4 5.4 0 1 0 10.8 0a5.4 5.4 0 1 0 -10.8 0M1225.40 321.32a5.4 5.4 0 1 0 10.8 0a5.4 5.4 0 1 0 -10.8 0M1230.05 412.21a5.4 5.4 0 1 0 10.8 0a5.4 5.4 0 1 0 -10.8 0M1234.71 369.38a5.4 5.4 0 1 0 10.8 0a5.4 5.4 0 1 0 -10.8 0M1239.37 397.50a5.4 5.4 0 1 0 10.8 0a5.4 5.4 0 1 0 -10.8 0M1244.02 390.98a5.4 5.4 0 1 0 10.8 0a5.4 5.4 0 1 0 -10.8 0M1248.67 438.29a5.4 5.4 0 1 0 10.8 0a5.4 5.4 0 1 0 -10.8 0M1253.33 363.60a5.4 5.4 0 1 0 10.8 0a5.4 5.4 0 1 0 -10.8 0M1257.98 433.07a5.4 5.4 0 1 0 10.8 0a5.4 5.4 0 1 0 -10.8 0M1262.64 377.01a5.4 5.4 0 1 0 10.8 0a5.4 5.4 0 1 0 -10.8 0M1267.29 415.75a5.4 5.4 0 1 0 10.8 0a5.4 5.4 0 1 0 -10.8 0M1271.95 371.05a5.4 5.4 0 1 0 10.8 0a5.4 5.4 0 1 0 -10.8 0M1276.61 386.14a5.4 5.4 0 1 0 10.8 0a5.4 5.4 0 1 0 -10.8 0M1281.26 393.40a5.4 5.4 0 1 0 10.8 0a5.4 5.4 0 1 0 -10.8 0M1285.91 436.61a5.4 5.4 0 1 0 10.8 0a5.4 5.4 0 1 0 -10.8 0M1290.57 382.60a5.4 5.4 0 1 0 10.8 0a5.4 5.4 0 1 0 -10.8 0M1295.22 357.08a5.4 5.4 0 1 0 10.8 0a5.4 5.4 0 1 0 -10.8 0M1299.88 373.10a5.4 5.4 0 1 0 10.8 0a5.4 5.4 0 1 0 -10.8 0M1304.53 343.49a5.4 5.4 0 1 0 10.8 0a5.4 5.4 0 1 0 -10.8 0M1309.19 352.99a5.4 5.4 0 1 0 10.8 0a5.4 5.4 0 1 0 -10.8 0M1313.84 332.31a5.4 5.4 0 1 0 10.8 0a5.4 5.4 0 1 0 -10.8 0M1318.50 360.06a5.4 5.4 0 1 0 10.8 0a5.4 5.4 0 1 0 -10.8 0M1323.15 350.56a5.4 5.4 0 1 0 10.8 0a5.4 5.4 0 1 0 -10.8 0M1327.81 361.37a5.4 5.4 0 1 0 10.8 0a5.4 5.4 0 1 0 -10.8 0M1332.46 364.53a5.4 5.4 0 1 0 10.8 0a5.4 5.4 0 1 0 -10.8 0M1337.12 371.05a5.4 5.4 0 1 0 10.8 0a5.4 5.4 0 1 0 -10.8 0M1341.77 382.60a5.4 5.4 0 1 0 10.8 0a5.4 5.4 0 1 0 -10.8 0M1346.43 358.57a5.4 5.4 0 1 0 10.8 0a5.4 5.4 0 1 0 -10.8 0M1351.09 308.10a5.4 5.4 0 1 0 10.8 0a5.4 5.4 0 1 0 -10.8 0M1355.74 355.03a5.4 5.4 0 1 0 10.8 0a5.4 5.4 0 1 0 -10.8 0M1360.39 361.93a5.4 5.4 0 1 0 10.8 0a5.4 5.4 0 1 0 -10.8 0M1365.05 408.68a5.4 5.4 0 1 0 10.8 0a5.4 5.4 0 1 0 -10.8 0M1369.70 354.66a5.4 5.4 0 1 0 10.8 0a5.4 5.4 0 1 0 -10.8 0M1374.36 371.43a5.4 5.4 0 1 0 10.8 0a5.4 5.4 0 1 0 -10.8 0M1379.01 333.99a5.4 5.4 0 1 0 10.8 0a5.4 5.4 0 1 0 -10.8 0M1383.67 300.65a5.4 5.4 0 1 0 10.8 0a5.4 5.4 0 1 0 -10.8 0M1388.32 361.93a5.4 5.4 0 1 0 10.8 0a5.4 5.4 0 1 0 -10.8 0M1392.98 293.01a5.4 5.4 0 1 0 10.8 0a5.4 5.4 0 1 0 -10.8 0M1397.63 398.99a5.4 5.4 0 1 0 10.8 0a5.4 5.4 0 1 0 -10.8 0M1402.29 363.79a5.4 5.4 0 1 0 10.8 0a5.4 5.4 0 1 0 -10.8 0M1406.94 354.66a5.4 5.4 0 1 0 10.8 0a5.4 5.4 0 1 0 -10.8 0M1411.60 367.51a5.4 5.4 0 1 0 10.8 0a5.4 5.4 0 1 0 -10.8 0M1416.25 436.61a5.4 5.4 0 1 0 10.8 0a5.4 5.4 0 1 0 -10.8 0M1420.91 380.55a5.4 5.4 0 1 0 10.8 0a5.4 5.4 0 1 0 -10.8 0M1425.57 365.84a5.4 5.4 0 1 0 10.8 0a5.4 5.4 0 1 0 -10.8 0M1430.22 376.83a5.4 5.4 0 1 0 10.8 0a5.4 5.4 0 1 0 -10.8 0M1434.88 432.89a5.4 5.4 0 1 0 10.8 0a5.4 5.4 0 1 0 -10.8 0M1439.53 367.51a5.4 5.4 0 1 0 10.8 0a5.4 5.4 0 1 0 -10.8 0M1444.18 365.84a5.4 5.4 0 1 0 10.8 0a5.4 5.4 0 1 0 -10.8 0M1448.84 427.11a5.4 5.4 0 1 0 10.8 0a5.4 5.4 0 1 0 -10.8 0M1453.49 332.31a5.4 5.4 0 1 0 10.8 0a5.4 5.4 0 1 0 -10.8 0M1458.15 379.06a5.4 5.4 0 1 0 10.8 0a5.4 5.4 0 1 0 -10.8 0M1462.80 354.66a5.4 5.4 0 1 0 10.8 0a5.4 5.4 0 1 0 -10.8 0M1467.46 404.58a5.4 5.4 0 1 0 10.8 0a5.4 5.4 0 1 0 -10.8 0M1472.11 281.84a5.4 5.4 0 1 0 10.8 0a5.4 5.4 0 1 0 -10.8 0M1476.77 369.38a5.4 5.4 0 1 0 10.8 0a5.4 5.4 0 1 0 -10.8 0M1481.42 412.21a5.4 5.4 0 1 0 10.8 0a5.4 5.4 0 1 0 -10.8 0M1486.08 354.66a5.4 5.4 0 1 0 10.8 0a5.4 5.4 0 1 0 -10.8 0M1490.73 343.12a5.4 5.4 0 1 0 10.8 0a5.4 5.4 0 1 0 -10.8 0M1495.39 462.50a5.4 5.4 0 1 0 10.8 0a5.4 5.4 0 1 0 -10.8 0M1500.05 421.34a5.4 5.4 0 1 0 10.8 0a5.4 5.4 0 1 0 -10.8 0M1504.70 365.84a5.4 5.4 0 1 0 10.8 0a5.4 5.4 0 1 0 -10.8 0M1509.36 425.44a5.4 5.4 0 1 0 10.8 0a5.4 5.4 0 1 0 -10.8 0M1514.01 408.68a5.4 5.4 0 1 0 10.8 0a5.4 5.4 0 1 0 -10.8 0M1518.66 335.85a5.4 5.4 0 1 0 10.8 0a5.4 5.4 0 1 0 -10.8 0M1523.32 311.64a5.4 5.4 0 1 0 10.8 0a5.4 5.4 0 1 0 -10.8 0M1527.97 352.61a5.4 5.4 0 1 0 10.8 0a5.4 5.4 0 1 0 -10.8 0M1532.63 360.06a5.4 5.4 0 1 0 10.8 0a5.4 5.4 0 1 0 -10.8 0M1537.28 386.14a5.4 5.4 0 1 0 10.8 0a5.4 5.4 0 1 0 -10.8 0M1541.94 398.99a5.4 5.4 0 1 0 10.8 0a5.4 5.4 0 1 0 -10.8 0M1546.59 315.55a5.4 5.4 0 1 0 10.8 0a5.4 5.4 0 1 0 -10.8 0M1551.25 330.45a5.4 5.4 0 1 0 10.8 0a5.4 5.4 0 1 0 -10.8 0M1555.90 358.20a5.4 5.4 0 1 0 10.8 0a5.4 5.4 0 1 0 -10.8 0" stroke="#0072bd" stroke-width="1.1" fill="none"/>
<line x1="951.5" y1="367.8" x2="1566" y2="367.8" stroke="#484440" stroke-width="1.3"/>
<line x1="951.5" y1="375.24" x2="1566" y2="375.24" stroke="#ff0a0a" stroke-width="1.3"/>
<path d="M951.5 516.7h6M1566 516.7h-6M951.5 479.4h6M1566 479.4h-6M951.5 442.2h6M1566 442.2h-6M951.5 404.9h6M1566 404.9h-6M951.5 367.7h6M1566 367.7h-6M951.5 330.4h6M1566 330.4h-6M951.5 293.2h6M1566 293.2h-6M951.5 255.9h6M1566 255.9h-6M951.5 218.7h6M1566 218.7h-6M951.5 537.3v-6M951.5 198.5v6M1044.6 537.3v-6M1044.6 198.5v6M1137.7 537.3v-6M1137.7 198.5v6M1230.8 537.3v-6M1230.8 198.5v6M1323.9 537.3v-6M1323.9 198.5v6M1417.0 537.3v-6M1417.0 198.5v6M1510.1 537.3v-6M1510.1 198.5v6" stroke="#262626" stroke-width="1.1" fill="none"/>
<rect x="951.5" y="198.5" width="614.5" height="338.8" fill="none" stroke="#262626" stroke-width="1.1"/>
<text x="944.4" y="522.7" class="serif" font-size="18" text-anchor="end">-8</text>
<text x="944.4" y="485.4" class="serif" font-size="18" text-anchor="end">-6</text>
<text x="944.4" y="448.2" class="serif" font-size="18" text-anchor="end">-4</text>
<text x="944.4" y="410.9" class="serif" font-size="18" text-anchor="end">-2</text>
<text x="944.4" y="373.7" class="serif" font-size="18" text-anchor="end">0</text>
<text x="944.4" y="336.4" class="serif" font-size="18" text-anchor="end">2</text>
<text x="944.4" y="299.2" class="serif" font-size="18" text-anchor="end">4</text>
<text x="944.4" y="261.9" class="serif" font-size="18" text-anchor="end">6</text>
<text x="944.4" y="224.7" class="serif" font-size="18" text-anchor="end">8</text>
<text x="951.5" y="561.8" class="serif" font-size="18" text-anchor="middle">0</text>
<text x="1044.6" y="561.8" class="serif" font-size="18" text-anchor="middle">20</text>
<text x="1137.7" y="561.8" class="serif" font-size="18" text-anchor="middle">40</text>
<text x="1230.8" y="561.8" class="serif" font-size="18" text-anchor="middle">60</text>
<text x="1323.9" y="561.8" class="serif" font-size="18" text-anchor="middle">80</text>
<text x="1417.0" y="561.8" class="serif" font-size="18" text-anchor="middle">100</text>
<text x="1510.1" y="561.8" class="serif" font-size="18" text-anchor="middle">120</text>
<text x="1258" y="588" class="serif" font-size="21.7" text-anchor="middle">Measured Point [-]</text>
<text transform="translate(916.8 368.2) rotate(-90)" class="serif" font-size="21.7" letter-spacing="-0.34" text-anchor="middle">Deviation [cm]</text>
<rect x="1343.5" y="201.5" width="222.5" height="71" fill="#fff" stroke="#262626" stroke-width="1.1"/>
<line x1="1348.5" y1="214.6" x2="1386.8" y2="214.6" stroke="#0072bd" stroke-width="1.2"/>
<circle cx="1386.8" cy="214.6" r="5.4" fill="none" stroke="#0072bd" stroke-width="1.1"/>
<line x1="1348.5" y1="236.8" x2="1402.8" y2="236.8" stroke="#ff2020" stroke-width="1.5"/>
<line x1="1348.5" y1="258.9" x2="1402.8" y2="258.9" stroke="#808080" stroke-width="1.2"/>
<text x="1408" y="219.3" class="serif" font-size="16.2" letter-spacing="0.85">Deviations</text>
<text x="1408" y="241.4" class="serif" font-size="16.2" letter-spacing="0.85">Mean (- 4 mm)</text>
<text x="1408" y="263.5" class="serif" font-size="16.2" letter-spacing="0.85">Max./Min. Deviation</text>
</g>
</svg></body></html>
